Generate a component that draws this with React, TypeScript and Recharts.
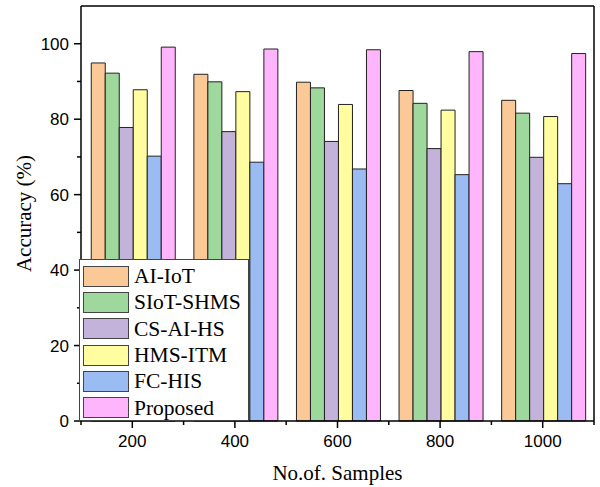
import { BarChart, Bar, XAxis, YAxis, ReferenceLine } from "recharts";

const samples = [200, 400, 600, 800, 1000];
const aiIot = [94.9, 91.9, 89.8, 87.6, 85.0];
const siotShms = [92.2, 89.9, 88.3, 84.2, 81.6];
const csAiHs = [77.8, 76.7, 74.1, 72.2, 69.9];
const hmsItm = [87.8, 87.3, 83.9, 82.4, 80.7];
const fcHis = [70.2, 68.6, 66.8, 65.3, 62.9];
const proposed = [99.1, 98.6, 98.4, 97.9, 97.4];

const xTicks = [100, 200, 300, 400, 500, 600, 700, 800, 900, 1000, 1100];
const yTicks = [0, 10, 20, 30, 40, 50, 60, 70, 80, 90, 100];

const series = [
  { key: "aiIot", name: "AI-IoT", color: "#FBC997" },
  { key: "siotShms", name: "SIoT-SHMS", color: "#9ED89D" },
  { key: "csAiHs", name: "CS-AI-HS", color: "#C3B2D9" },
  { key: "hmsItm", name: "HMS-ITM", color: "#FFFD9F" },
  { key: "fcHis", name: "FC-HIS", color: "#9BBBF3" },
  { key: "proposed", name: "Proposed", color: "#FFB5FB" },
];

const data = samples.map((s, i) => ({
  samples: s,
  aiIot: aiIot[i],
  siotShms: siotShms[i],
  csAiHs: csAiHs[i],
  hmsItm: hmsItm[i],
  fcHis: fcHis[i],
  proposed: proposed[i],
}));

const SANS = "'Liberation Sans', Arial, sans-serif";
const SERIF = "'Liberation Serif', 'Times New Roman', serif";

// major ticks carry a label, minor ones are just short marks
const XTick = ({ x, y, payload }: any) => {
  const major = payload.value % 200 === 0;
  return (
    <g>
      <line x1={x} x2={x} y1={y} y2={y + (major ? 7 : 4)} stroke="#000" strokeWidth={1.5} />
      {major && (
        <text x={x} y={y + 26} textAnchor="middle" fontFamily={SANS} fontSize={17} fill="#000">
          {payload.value}
        </text>
      )}
    </g>
  );
};

const YTick = ({ x, y, payload }: any) => {
  const major = payload.value % 20 === 0;
  return (
    <g>
      <line x1={x - (major ? 7 : 4)} x2={x} y1={y} y2={y} stroke="#000" strokeWidth={1.5} />
      {major && (
        <text x={x - 12} y={y + 6} textAnchor="end" fontFamily={SANS} fontSize={17} fill="#000">
          {payload.value}
        </text>
      )}
    </g>
  );
};

// legend box sits over the bars like in the original plot
const LegendBox = () => (
  <div
    style={{
      position: "absolute",
      left: 79,
      top: 259,
      width: 170,
      height: 162,
      border: "1px solid #444",
      background: "#fff",
      padding: "3px 0 0 3px",
      boxSizing: "border-box",
    }}
  >
    {series.map((s) => (
      <div key={s.key} style={{ display: "flex", alignItems: "center", height: 26.3 }}>
        <div
          style={{
            width: 46,
            height: 21,
            background: s.color,
            border: "1.5px solid #444",
            boxSizing: "border-box",
          }}
        />
        <span style={{ marginLeft: 5, fontFamily: SERIF, fontSize: 21.5, color: "#000", lineHeight: "22px" }}>
          {s.name}
        </span>
      </div>
    ))}
  </div>
);

export default function App() {
  return (
    <div style={{ position: "absolute", left: 0, top: 0, width: 600, height: 487 }}>
      <BarChart
        width={600}
        height={487}
        data={data}
        margin={{ top: 6, right: 6, left: 0, bottom: 0 }}
        barCategoryGap="10%"
        barGap={0}
      >
        <XAxis
          dataKey="samples"
          type="number"
          domain={[100, 1100]}
          ticks={xTicks}
          interval={0}
          height={66}
          tickSize={0}
          tickMargin={0}
          tickLine={false}
          tick={<XTick />}
          axisLine={{ stroke: "#000", strokeWidth: 1.5 }}
          label={{
            value: "No.of. Samples",
            position: "insideBottom",
            offset: 7,
            style: { fontFamily: SERIF, fontSize: 21, fill: "#000" },
          }}
        />
        <YAxis
          domain={[0, 110]}
          ticks={yTicks}
          interval={0}
          width={81}
          tickSize={0}
          tickMargin={0}
          tickLine={false}
          tick={<YTick />}
          axisLine={{ stroke: "#000", strokeWidth: 1.5 }}
          label={{
            value: "Accuracy (%)",
            angle: -90,
            position: "insideLeft",
            offset: 24,
            style: { fontFamily: SERIF, fontSize: 21, fill: "#000", textAnchor: "middle" },
          }}
        />
        <ReferenceLine y={110} stroke="#000" strokeWidth={1.5} />
        <ReferenceLine x={1100} stroke="#000" strokeWidth={1.5} />
        {series.map((s) => (
          <Bar
            key={s.key}
            dataKey={s.key}
            name={s.name}
            fill={s.color}
            stroke="#222"
            strokeWidth={1}
            isAnimationActive={false}
          />
        ))}
      </BarChart>
      <LegendBox />
    </div>
  );
}
